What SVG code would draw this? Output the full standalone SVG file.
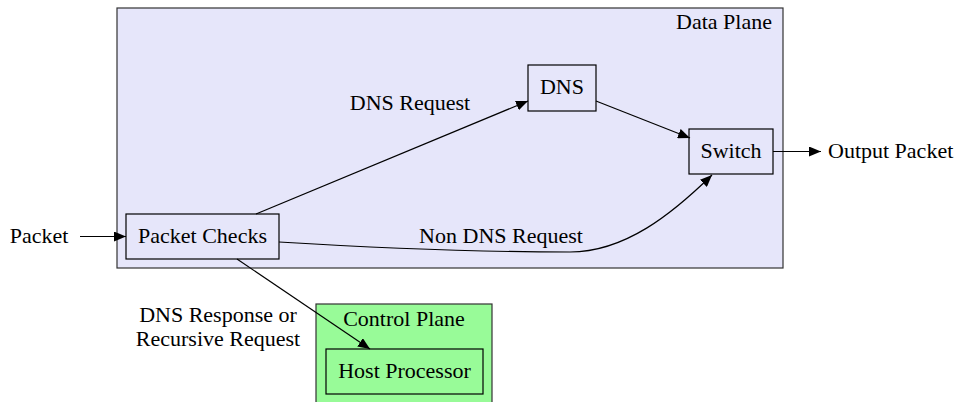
<svg xmlns="http://www.w3.org/2000/svg" width="964" height="402" viewBox="0 0 964 402">
<style>
text{font-family:"Liberation Serif","Times New Roman",serif;font-size:22px;fill:#000}
.c{text-anchor:middle}
.e{fill:none;stroke:#000;stroke-width:1.2}
.n{stroke:#000;stroke-width:1.2}
</style>
<defs>
<marker id="ah" viewBox="0 0 12 10" refX="12" refY="5" markerWidth="12" markerHeight="10" markerUnits="userSpaceOnUse" orient="auto">
<path d="M0,0 L12,5 L0,10 Z" fill="#000"/>
</marker>
</defs>
<rect width="964" height="402" fill="#fff"/>
<g id="cluster_data">
<rect x="117" y="8" width="666" height="260" fill="#e6e6fa" stroke="#333" stroke-width="1.2"/>
<text x="772" y="29" text-anchor="end">Data Plane</text>
</g>
<g id="cluster_control">
<rect x="316" y="304" width="176" height="104" fill="#98fb98" stroke="#333" stroke-width="1.2"/>
<text x="404" y="326" class="c">Control Plane</text>
</g>
<g id="packet">
<text x="39" y="243" class="c">Packet</text>
</g>
<g id="checks">
<rect x="126" y="214" width="153" height="45" fill="#e6e6fa" class="n"/>
<text x="202.5" y="243" class="c">Packet Checks</text>
</g>
<g id="dns">
<rect x="528" y="65" width="68" height="46" fill="#e6e6fa" class="n"/>
<text x="562" y="94" class="c">DNS</text>
</g>
<g id="switch">
<rect x="689" y="129" width="84" height="45" fill="#e6e6fa" class="n"/>
<text x="731" y="158" class="c">Switch</text>
</g>
<g id="output">
<text x="828" y="158">Output Packet</text>
</g>
<g id="host">
<rect x="326" y="349" width="157" height="45" fill="#98fb98" class="n"/>
<text x="404.5" y="378" class="c">Host Processor</text>
</g>
<g id="connectors">
<path class="e" d="M80,236.5 L126,236.5" marker-end="url(#ah)"/>
<path class="e" d="M256,214 L528,101" marker-end="url(#ah)"/>
<text x="410" y="110" class="c">DNS Request</text>
<path class="e" d="M596,101 L690,138" marker-end="url(#ah)"/>
<path class="e" d="M279,242 C360,247 480,252 570,252 C625,252 672,214 712,175" marker-end="url(#ah)"/>
<text x="501" y="243" class="c">Non DNS Request</text>
<path class="e" d="M773,151.5 L821,151.5" marker-end="url(#ah)"/>
<path class="e" d="M237,259 L370,349" marker-end="url(#ah)"/>
<text x="218" y="322" class="c">DNS Response or</text>
<text x="218" y="346" class="c">Recursive Request</text>
</g>
</svg>
